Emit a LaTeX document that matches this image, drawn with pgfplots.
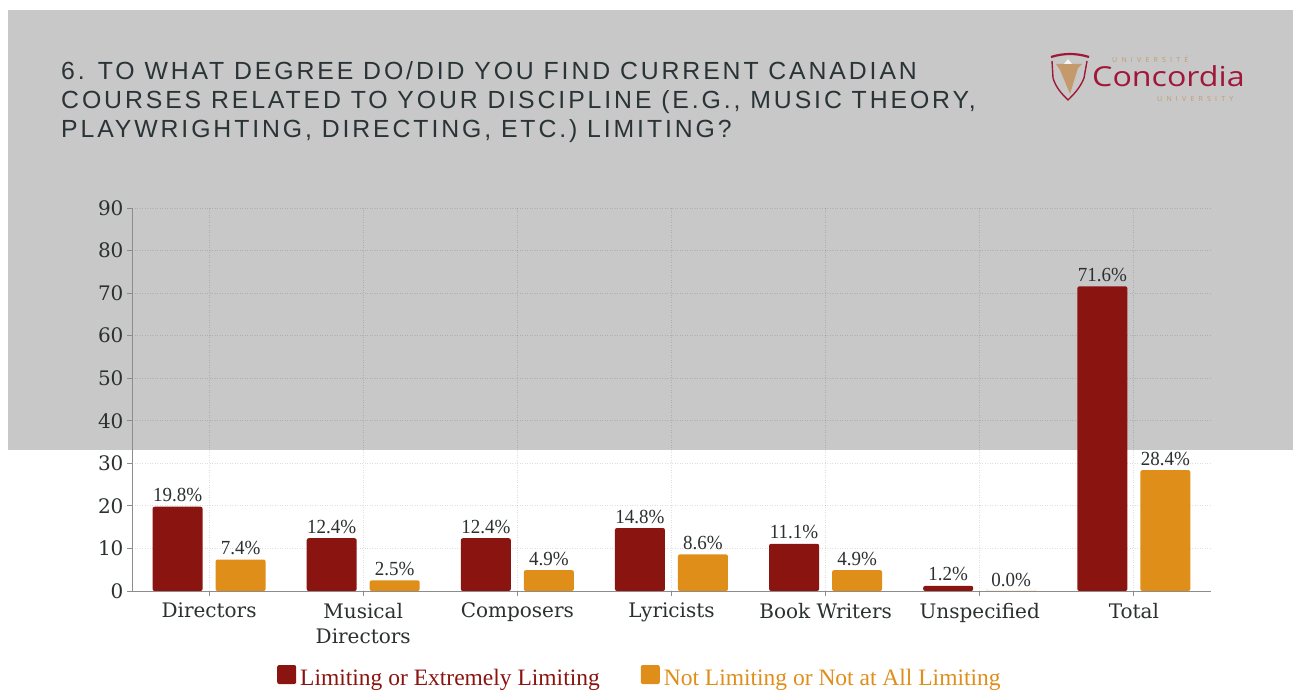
\documentclass[border=0pt]{standalone}
\usepackage{fontspec}
\usepackage{graphicx}
\usepackage{pgfplots}
\pgfplotsset{compat=1.18}
\setmainfont{DejaVu Serif}
\newfontfamily\catfont{DejaVu Serif}
\newfontfamily\valfont[FakeStretch=0.95]{Liberation Serif}
\newfontfamily\legfont{Liberation Serif}
\newfontfamily\titlefont[LetterSpace=11.7]{Liberation Sans}
\newfontfamily\logofont{Open Sans}
\newfontfamily\logosmall[LetterSpace=60]{Open Sans}
\definecolor{barred}{HTML}{8A1410}
\definecolor{barorange}{HTML}{E08E1A}
\definecolor{bandgray}{HTML}{C8C8C8}
\definecolor{titlegray}{HTML}{2A3436}
\definecolor{textgray}{HTML}{2B3030}
\definecolor{logored}{HTML}{A0173A}
\definecolor{logotan}{HTML}{C49A6C}
\begin{document}
\begin{tikzpicture}[x=1pt,y=1pt]
\path[use as bounding box] (0,0) rectangle (1297,690);
\fill[white] (0,0) rectangle (1297,690);
\fill[bandgray] (8,240) rectangle (1293,680);
% title
\node[anchor=base west, inner sep=0pt, text=titlegray, font=\titlefont\fontsize{24.8}{29}\selectfont] at (61,610) {6. TO WHAT DEGREE DO/DID YOU FIND CURRENT CANADIAN};
\node[anchor=base west, inner sep=0pt, text=titlegray, font=\titlefont\fontsize{24.8}{29}\selectfont] at (61,581) {COURSES RELATED TO YOUR DISCIPLINE (E.G., MUSIC THEORY,};
\node[anchor=base west, inner sep=0pt, text=titlegray, font=\titlefont\fontsize{24.8}{29}\selectfont] at (61,552) {PLAYWRIGHTING, DIRECTING, ETC.) LIMITING?};
% logo
\fill[logotan] (1056,626) -- (1082,626) -- (1078,622) -- (1070,596) -- (1060,620) -- cycle;
\fill[white, opacity=0.8] (1064,626) -- (1068,631) -- (1072,626) -- cycle;
\draw[logored, line width=2.2pt] (1051,633) .. controls (1064,637) and (1076,637) .. (1089,633);
\draw[logored, line width=1.4pt] (1052,629) -- (1053,612) .. controls (1056,602) and (1062,596) .. (1068,590) .. controls (1074,596) and (1080,602) .. (1084,612) -- (1087,629);
\node[anchor=base west, inner sep=0pt, text=logored, font=\logofont\fontsize{27.5}{30}\selectfont] at (1092,603) {\scalebox{1.17}[1]{Concordia}};
\node[anchor=base west, inner sep=0pt, text=logotan, font=\logosmall\fontsize{7}{8}\selectfont] at (1112,627) {UNIVERSITÉ};
\node[anchor=base west, inner sep=0pt, text=logotan, font=\logosmall\fontsize{7}{8}\selectfont] at (1157,588) {UNIVERSITY};
\begin{axis}[
  at={(132pt,99pt)}, anchor=south west,
  scale only axis, width=1079pt, height=383pt,
  xmin=-0.5, xmax=6.5, ymin=0, ymax=90,
  ytick={0,10,...,90},
  xtick={0,1,2,3,4,5,6},
  xticklabels={Directors, {Musical\\Directors}, Composers, Lyricists, Book Writers, Unspecified, Total},
  ybar=13pt, bar width=50pt,
  axis lines*=left,
  axis line style={draw=black!45, line width=0.8pt},
  tick style={draw=black!45, line width=0.8pt},
  tick align=outside, major tick length=5pt,
  grid=major,
  grid style={draw=black, opacity=0.13, line width=0.8pt, dash pattern=on 1pt off 1.5pt},
  /pgf/number format/assume math mode=true,
  ticklabel style={text=textgray},
  yticklabel style={font=\catfont\fontsize{20}{24}\selectfont},
  xticklabel style={font=\catfont\fontsize{20}{25}\selectfont, align=center, yshift=-3.5pt},
  nodes near coords={\pgfmathprintnumber[fixed, fixed zerofill, precision=1]{\pgfplotspointmeta}\%},
  every node near coord/.append style={font=\valfont\fontsize{20}{22}\selectfont, text=textgray, inner sep=0pt, yshift=4.5pt},
  legend columns=2,
  legend cell align=left,
  legend style={at={(0.1344,-0.2245)}, anchor=west, draw=none, fill=none, inner sep=0pt,
    font=\legfont\fontsize{23.5}{26}\selectfont,
    nodes={inner xsep=4pt, inner ysep=2pt},
    /tikz/every even column/.append style={column sep=37pt}},
  legend image code/.code={\fill[#1] (0pt,-6pt) rectangle (19pt,13pt);},
]
\addplot[fill=barred, draw=none, rounded corners=2pt] coordinates {(0,19.8) (1,12.4) (2,12.4) (3,14.8) (4,11.1) (5,1.2) (6,71.6)};
\addlegendentry{\textcolor{barred}{Limiting or Extremely Limiting}}
\addplot[fill=barorange, draw=none, rounded corners=2pt] coordinates {(0,7.4) (1,2.5) (2,4.9) (3,8.6) (4,4.9) (5,0.0) (6,28.4)};
\addlegendentry{\textcolor{barorange}{Not Limiting or Not at All Limiting}}
\end{axis}
\end{tikzpicture}
\end{document}
